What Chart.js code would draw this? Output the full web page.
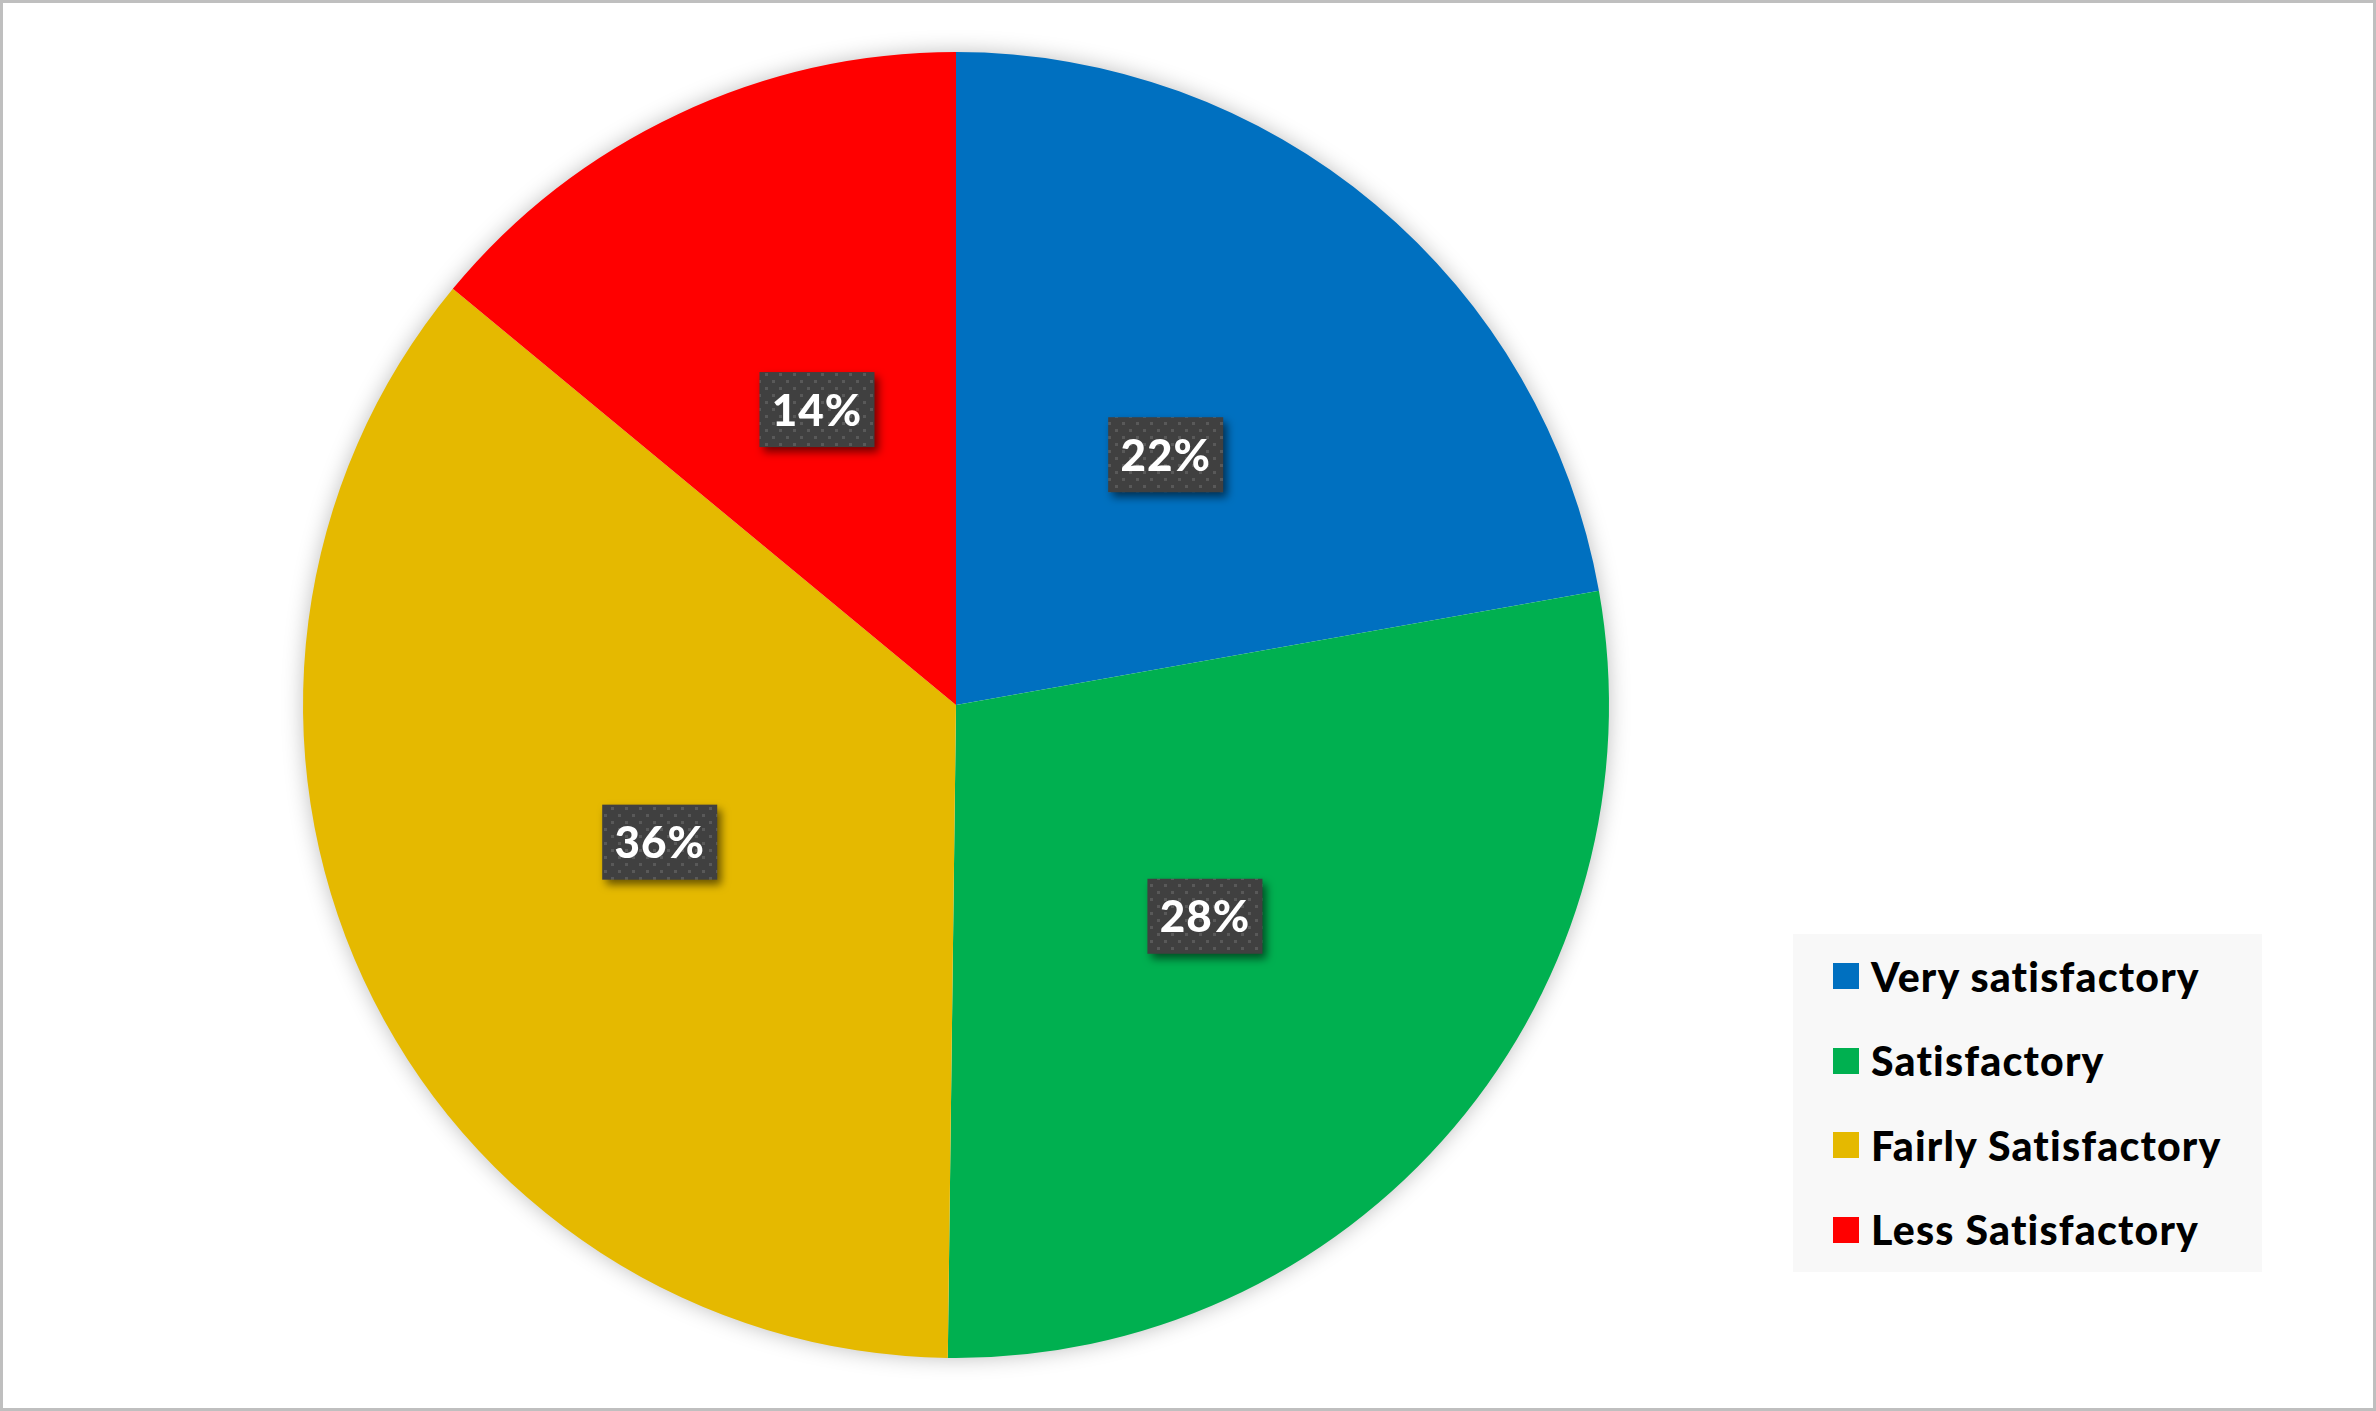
<!DOCTYPE html>
<html>
<head>
<meta charset="utf-8">
<script src="https://cdn.jsdelivr.net/npm/chart.js@4.4.1/dist/chart.umd.min.js"></script>
<style>
  html, body { margin: 0; padding: 0; background: #fff; }
  #wrap { position: relative; width: 2376px; height: 1411px; overflow: hidden; }
  #frame { position: absolute; left: 0; top: 0; width: 2376px; height: 1411px; box-sizing: border-box;
           border: 3px solid #bfbfbf; pointer-events: none; }
  #legend { position: absolute; left: 1793px; top: 934px; width: 469px; height: 338px;
            background: #f8f8f8; box-sizing: border-box; padding-top: 0px; }
  .row { height: 84.5px; display: flex; align-items: center; position: relative; }
  .sw { position: absolute; left: 40px; width: 26px; height: 26px; }
  .lbl { position: absolute; left: 78px; font: 900 41px Lato, "Open Sans", sans-serif; letter-spacing: 1.2px;
         color: #000; white-space: nowrap; }
</style>
</head>
<body>
<div id="wrap">
  <canvas id="pieChart" width="2376" height="1411"></canvas>
  <div id="legend"></div>
  <div id="frame"></div>
</div>
<script>
'use strict';

const labels = ['Very satisfactory', 'Satisfactory', 'Fairly Satisfactory', 'Less Satisfactory'];
const values = [22.2, 28.0, 35.8, 14.0];
const colors = ['#0070c0', '#00b050', '#e5b900', '#ff0000'];

// dotted dark fill used behind the percentage labels
function makePattern(ctx) {
  const c = document.createElement('canvas');
  c.width = 14; c.height = 14;
  const p = c.getContext('2d');
  p.fillStyle = '#404040';
  p.fillRect(0, 0, 14, 14);
  p.fillStyle = '#595959';
  p.fillRect(2, 2, 3, 3);
  p.fillRect(9, 9, 3, 3);
  return ctx.createPattern(c, 'repeat');
}

// soft shadow behind the whole pie
const pieShadow = {
  id: 'pieShadow',
  beforeDatasetsDraw(chart) {
    const arc = chart.getDatasetMeta(0).data[0];
    if (!arc) return;
    const ctx = chart.ctx;
    ctx.save();
    ctx.shadowColor = 'rgba(0,0,0,0.28)';
    ctx.shadowBlur = 22;
    ctx.fillStyle = '#ffffff';
    ctx.beginPath();
    ctx.arc(arc.x, arc.y, arc.outerRadius - 1, 0, Math.PI * 2);
    ctx.fill();
    ctx.restore();
  }
};

// boxed percentage labels at slice centroids
const boxLabels = {
  id: 'boxLabels',
  afterDatasetsDraw(chart) {
    const ctx = chart.ctx;
    const pattern = makePattern(ctx);
    const meta = chart.getDatasetMeta(0);
    const total = values.reduce((a, b) => a + b, 0);
    ctx.save();
    ctx.font = '900 44px Lato, "Open Sans", sans-serif';
    ctx.letterSpacing = '1px';
    meta.data.forEach((arc, i) => {
      const pos = arc.tooltipPosition();
      const txt = Math.round(values[i] / total * 100) + '%';
      const w = 115;
      const h = 75;
      const x = pos.x - w / 2, y = pos.y - h / 2;
      ctx.save();
      ctx.shadowColor = 'rgba(0,0,0,0.55)';
      ctx.shadowBlur = 8;
      ctx.shadowOffsetX = 4;
      ctx.shadowOffsetY = 5;
      ctx.fillStyle = pattern;
      ctx.fillRect(x, y, w, h);
      ctx.restore();
      ctx.fillStyle = '#ffffff';
      ctx.textAlign = 'center';
      ctx.textBaseline = 'middle';
      ctx.fillText(txt, pos.x, pos.y + 2);
    });
    ctx.restore();
  }
};

new Chart(document.getElementById('pieChart'), {
  type: 'pie',
  data: {
    labels: labels,
    datasets: [{
      data: values,
      backgroundColor: colors,
      borderWidth: 0
    }]
  },
  options: {
    responsive: false,
    animation: false,
    layout: { padding: { left: 303, right: 767, top: 52, bottom: 53 } },
    plugins: {
      legend: { display: false },
      tooltip: { enabled: false }
    }
  },
  plugins: [pieShadow, boxLabels]
});

// Legend
const legend = document.getElementById('legend');
labels.forEach((label, i) => {
  const row = document.createElement('div');
  row.className = 'row';
  row.innerHTML = `<div class="sw" style="background:${colors[i]}"></div><span class="lbl">${label}</span>`;
  legend.appendChild(row);
});
</script>
</body>
</html>
